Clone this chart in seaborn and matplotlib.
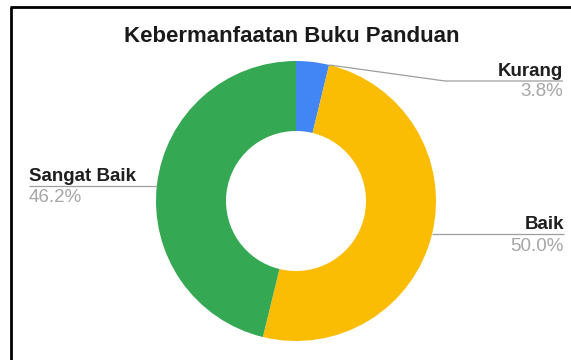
import numpy as np
import matplotlib
matplotlib.use("Agg")
import matplotlib.pyplot as plt
import seaborn as sns

# Survey answers and their shares (percent)
categories = ["Kurang", "Baik", "Sangat Baik"]
shares = [3.8, 50.0, 46.2]
slice_colors = ["#4285F4", "#FBBC04", "#34A853"]
pct_labels = [f"{v:.1f}%" for v in shares]
title = "Kebermanfaatan Buku Panduan"

sns.set_theme(style="white")
plt.rcParams["font.family"] = ["Liberation Sans", "DejaVu Sans"]

W, H = 571, 360
fig = plt.figure(figsize=(W / 100, H / 100), dpi=100)
ax = fig.add_axes([0, 0, 1, 1])

def Y(y):
    # top-down pixel row -> data y
    return H - y

cx, cy, R = 296, Y(201), 140
ax.pie(shares, colors=slice_colors, startangle=90, counterclock=False,
       radius=R, center=(cx, cy),
       wedgeprops=dict(width=R * 0.5, linewidth=0))
ax.set_xlim(0, W)
ax.set_ylim(0, H)
ax.set_aspect("equal")
ax.axis("off")

line_kw = dict(color="#9e9e9e", lw=0.9, solid_capstyle="butt")
lab_kw = dict(fontsize=13.5, fontweight="bold", color="#1f1f1f")
pct_kw = dict(fontsize=13.5, color="#a6a6a6")

# Kurang: leader from the end of its slice out to the right
a_end = np.deg2rad(90 - shares[0] * 3.6)
x0, y0 = cx + R * np.cos(a_end), cy + R * np.sin(a_end)
ax.plot([x0, 445, 563], [y0, Y(81), Y(81)], **line_kw)
ax.text(563, Y(76), categories[0], ha="right", va="baseline", **lab_kw)
ax.text(563, Y(96.5), pct_labels[0], ha="right", va="baseline", **pct_kw)

# Baik: horizontal leader on the right
yb = Y(234)
xb = cx + np.sqrt(R**2 - (yb - cy) ** 2)
ax.plot([xb, 564], [yb, yb], **line_kw)
ax.text(564, Y(229), categories[1], ha="right", va="baseline", **lab_kw)
ax.text(564, Y(251), pct_labels[1], ha="right", va="baseline", **pct_kw)

# Sangat Baik: horizontal leader on the left
ys = Y(185.7)
xs = cx - np.sqrt(R**2 - (ys - cy) ** 2)
ax.plot([29, xs], [ys, ys], **line_kw)
ax.text(29, Y(181), categories[2], ha="left", va="baseline", **lab_kw)
ax.text(29, Y(202), pct_labels[2], ha="left", va="baseline", **pct_kw)

ax.text(291.5, Y(41.7), title, ha="center", va="baseline",
        fontsize=16, fontweight="bold", color="#1a1a1a")

# frame edges along the top and left
ax.plot([10, W], [Y(7), Y(7)], color="black", lw=2, solid_capstyle="butt", clip_on=False)
ax.plot([11, 11], [Y(7), 0], color="black", lw=2, solid_capstyle="butt", clip_on=False)

fig.savefig("out.png", dpi=100)
